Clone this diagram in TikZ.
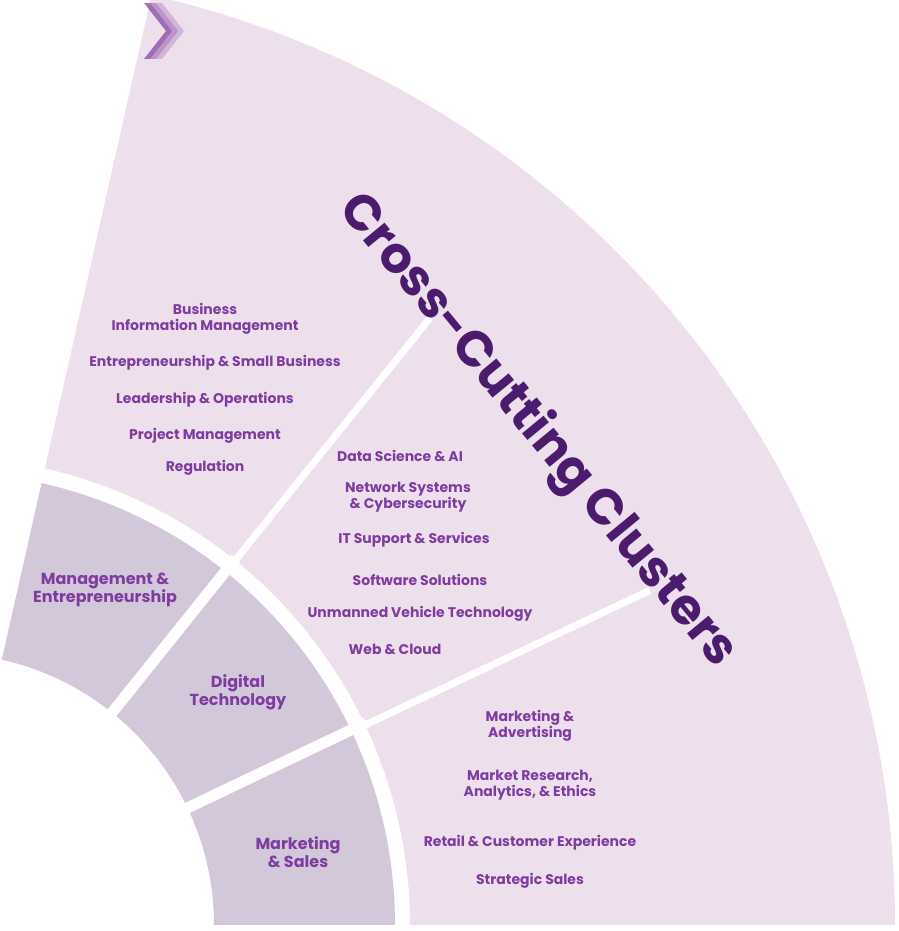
\documentclass[tikz,border=0pt]{standalone}
\usepackage{fontspec}
\setmainfont{Poppins}
\tikzset{
  lbl/.style={text=lab, font=\bfseries\fontsize{14}{16.5}\selectfont, align=center},
  seg/.style={text=lab, font=\bfseries\fontsize{16}{18}\selectfont, align=center},
}
\definecolor{light}{HTML}{EEDFEC}
\definecolor{dark}{HTML}{D2C8DA}
\definecolor{lab}{HTML}{7E3CA0}
\definecolor{ttl}{HTML}{4B1C6E}
\begin{document}
\begin{tikzpicture}[x=1pt,y=1pt]
\useasboundingbox (0,0) rectangle (898,931);
\begin{scope}[shift={(-58,6)}]
\fill[light] (0:468) -- (0:953) arc[start angle=0,end angle=77.3,radius=953] -- (77.3:468) arc[start angle=77.3,end angle=0,radius=468] -- cycle;
\fill[dark] (0:272) -- (0:453) arc[start angle=0,end angle=77.3,radius=453] -- (77.3:272) arc[start angle=77.3,end angle=0,radius=272] -- cycle;
\coordinate (g1a) at (25.5:260); \coordinate (g1b) at (25.5:470);
\coordinate (g2a) at (51.3:260); \coordinate (g2b) at (51.3:470);
\draw[white,line width=11] (g1a) -- (g1b);
\draw[white,line width=11] (g2a) -- (g2b);
\coordinate (h1a) at (25.3:460); \coordinate (h1b) at (25.3:783);
\coordinate (h2a) at (51.2:460); \coordinate (h2b) at (51.2:779);
\draw[white,line width=7] (h1a) -- (h1b);
\draw[white,line width=7] (h2a) -- (h2b);
\end{scope}
% chevrons
\foreach \i/\o in {0/0.7,1/0.45,2/0.25}{
  \fill[lab,opacity=\o] (144+6*\i,928) -- (166+6*\i,900) -- (144+6*\i,872) -- (150+6*\i,872) -- (172+6*\i,900) -- (150+6*\i,928) -- cycle;
}
\node[text=ttl,font=\fontsize{50}{50}\selectfont\bfseries,rotate=-50.5] (title) at (537,500) {Cross-Cutting Clusters};
\node[lbl] (a1) at (205,612) {Business\\Information Management};
\node[lbl] (a2) at (215,568) {Entrepreneurship \& Small Business};
\node[lbl] (a3) at (205,531) {Leadership \& Operations};
\node[lbl] (a4) at (205,495) {Project Management};
\node[lbl] (a5) at (205,463) {Regulation};
\node[lbl] (b1) at (400,475) {Data Science \& AI};
\node[lbl] (b2) at (408,434) {Network Systems\\\& Cybersecurity};
\node[lbl] (b3) at (414,391) {IT Support \& Services};
\node[lbl] (b4) at (420,351) {Software Solutions};
\node[lbl] (b5) at (420,317) {Unmanned Vehicle Technology};
\node[lbl] (b6) at (395,282) {Web \& Cloud};
\node[lbl] (c1) at (530,205) {Marketing \&\\Advertising};
\node[lbl] (c2) at (530,146) {Market Research,\\Analytics, \& Ethics};
\node[lbl] (c3) at (530,88) {Retail \& Customer Experience};
\node[lbl] (c4) at (530,50) {Strategic Sales};
\node[seg] (d1) at (105,341) {Management \&\\Entrepreneurship};
\node[seg] (d2) at (238,239) {Digital\\Technology};
\node[seg] (d3) at (298,79) {Marketing\\\& Sales};
\end{tikzpicture}
\end{document}
